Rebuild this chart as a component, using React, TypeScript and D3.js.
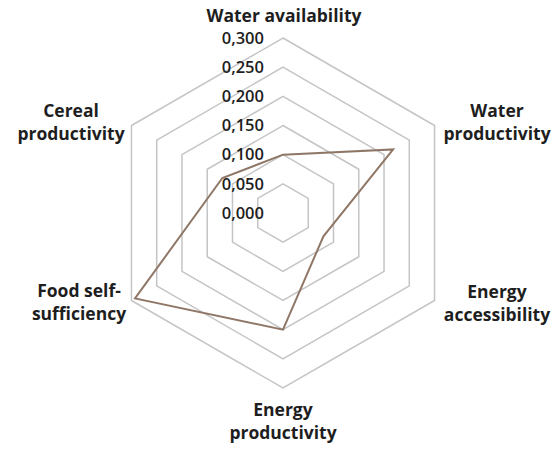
import React from 'react';
import * as d3 from 'd3';

export const axisLabels = [
	['Water availability'],
	['Water', 'productivity'],
	['Energy', 'accessibility'],
	['Energy', 'productivity'],
	['Food self-', 'sufficiency'],
	['Cereal', 'productivity'],
];
export const seriesValues = [0.100, 0.218, 0.080, 0.200, 0.293, 0.120];
export const ringTicks = [0.05, 0.1, 0.15, 0.2, 0.25, 0.3];
export const tickLabels = ['0,000', '0,050', '0,100', '0,150', '0,200', '0,250', '0,300'];

const W = 558;
const H = 450;
const cx = 283;
const cy = 213;
const font = '"Open Sans", "Liberation Sans", sans-serif';

export default function App() {
	const r = d3.scaleLinear().domain([0, 0.3]).range([0, 175]);
	const angle = d3.scaleLinear().domain([0, axisLabels.length]).range([0, 2 * Math.PI]);

	const radial = d3.lineRadial<number>()
		.angle((d, i) => angle(i))
		.radius(d => r(d))
		.curve(d3.curveLinearClosed);

	// label placement per axis: [x, first baseline]
	const labelPos: [number, number][] = [
		[284, 22],
		[497, 117],
		[497, 298],
		[283, 416],
		[79, 297],
		[71, 117],
	];

	return (
		<svg width={W} height={H} style={{position: 'absolute', left: 0, top: 0, background: '#fff'}}>
			<g transform={`translate(${cx},${cy})`}>
				{/* grid rings */}
				{ringTicks.map(t => (
					<path key={t} d={radial(axisLabels.map(() => t)) || ''}
						fill="none" stroke="#c4c4c4" strokeWidth={1.5}/>
				))}
				{/* series */}
				<path d={radial(seriesValues) || ''} fill="none" stroke="#8f7767" strokeWidth={2}/>
				{/* tick labels */}
				{tickLabels.map((t, i) => (
					<text key={t} x={-19} y={-r(i * 0.05)} dy="0.35em" textAnchor="end"
						fontFamily={font} fontSize={16.5} fontWeight={600} fill="#1e1e1e">{t}</text>
				))}
			</g>
			{/* category labels */}
			{axisLabels.map((lines, i) => (
				<text key={i} textAnchor="middle" fontFamily={font} fontSize={17.5} fontWeight={700} fill="#1e1e1e">
					{lines.map((l, j) => (
						<tspan key={j} x={labelPos[i][0]} y={labelPos[i][1] + j * 23}>{l}</tspan>
					))}
				</text>
			))}
		</svg>
	);
}
